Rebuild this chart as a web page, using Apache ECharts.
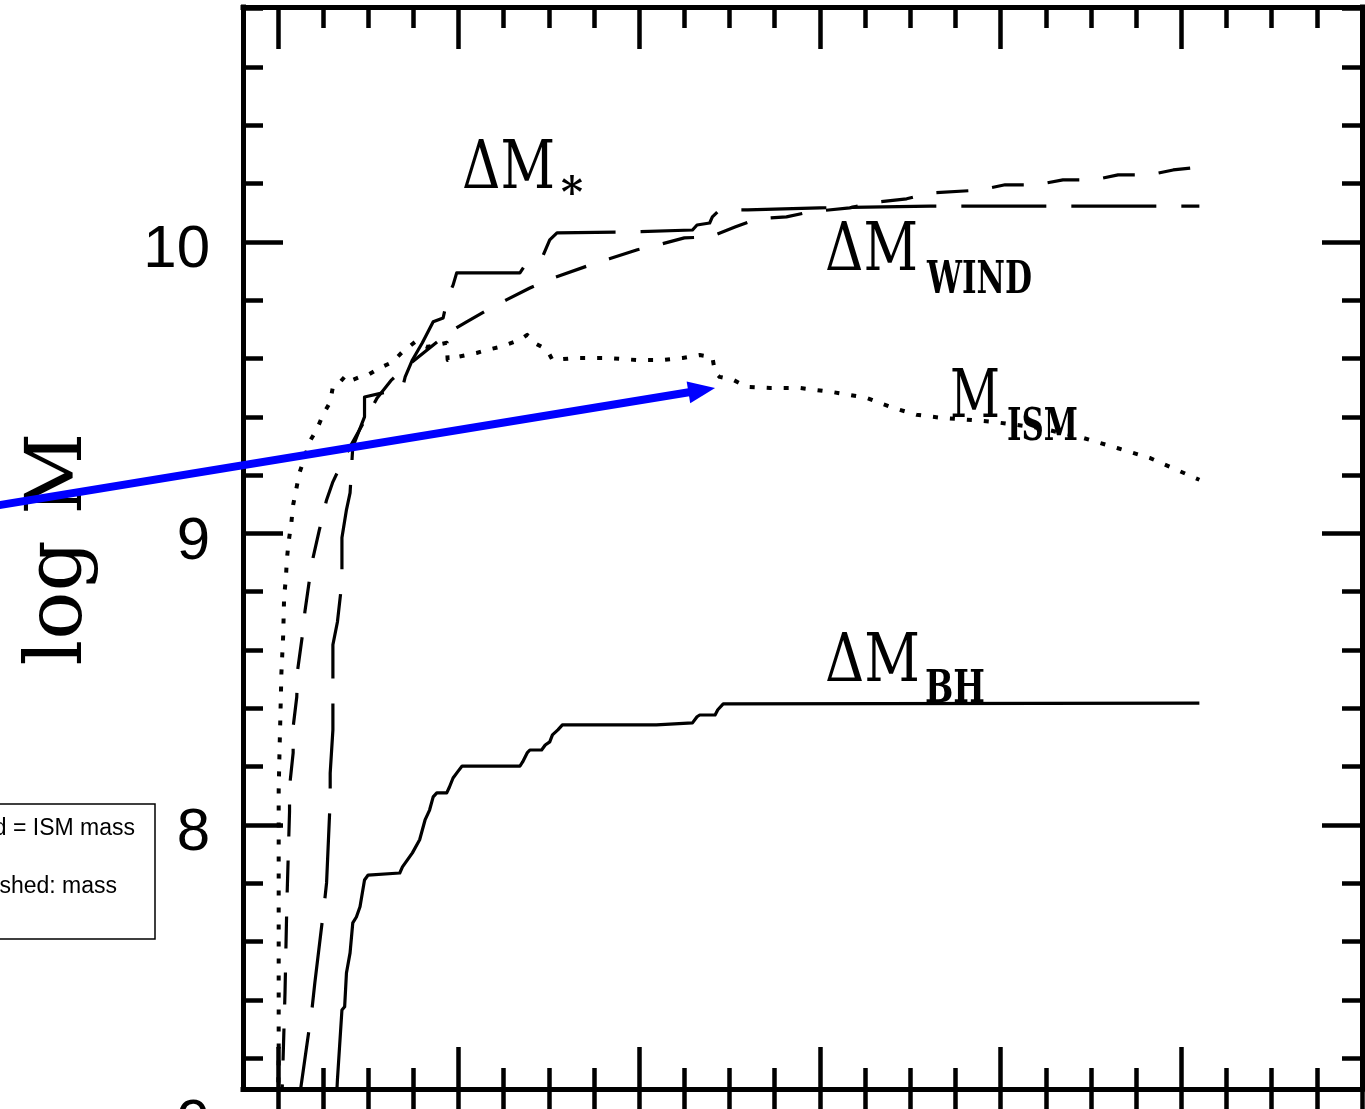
<!DOCTYPE html>
<html>
<head>
<meta charset="utf-8">
<script src="https://cdn.jsdelivr.net/npm/echarts@6/dist/echarts.min.js"></script>
<style>
  html, body { margin: 0; padding: 0; background: #fff; overflow: hidden; }
  #chart { width: 1365px; height: 1109px; }
</style>
</head>
<body>
<div id="chart"></div>
<script>
// ---- data: time (Gyr) and log10 mass of each component ----
const bhTime = [2.64,2.66,2.71,2.74,2.76,2.80,2.83,2.87,2.91,2.96,3.00,3.35,3.38,3.49,3.57,3.63,3.68,3.72,3.76,3.87,3.90,3.94,3.99,4.04,4.68,4.71,4.76,4.79,4.92,4.96,5.01,5.04,5.10,5.15,6.19,6.59,6.64,6.67,6.84,6.87,6.93,12.20];
const bhLogMass = [7.000,7.125,7.365,7.376,7.492,7.561,7.664,7.684,7.719,7.811,7.828,7.835,7.856,7.904,7.949,8.017,8.051,8.096,8.110,8.110,8.130,8.161,8.182,8.202,8.202,8.216,8.247,8.257,8.257,8.274,8.285,8.309,8.326,8.343,8.343,8.350,8.371,8.377,8.377,8.395,8.415,8.418];

const starTime = [2.21,2.38,2.41,2.51,2.54,2.58,2.58,2.61,2.61,2.66,2.71,2.71,2.76,2.80,2.83,2.96,2.96,3.16,3.38,3.41,3.49,3.60,3.72,3.83,3.88,3.94,3.98,4.68,4.76,4.93,5.01,5.09,5.90,6.59,6.64,6.78,6.81,6.89,7.20,8.00,9.22,12.20];
const starLogMass = [7.000,7.372,7.458,7.715,7.801,8.086,8.178,8.326,8.618,8.696,8.834,8.985,9.081,9.139,9.297,9.400,9.468,9.482,9.499,9.537,9.595,9.654,9.726,9.739,9.811,9.852,9.894,9.894,9.931,9.949,10.007,10.031,10.034,10.041,10.058,10.065,10.086,10.110,10.110,10.117,10.123,10.123];

const windTime = [2.04,2.08,2.10,2.13,2.13,2.17,2.17,2.21,2.22,2.27,2.30,2.35,2.39,2.46,2.54,2.61,2.71,2.80,3.10,3.26,3.38,3.90,4.09,4.32,4.53,4.79,4.99,5.43,5.67,5.98,6.21,6.50,6.78,7.06,7.30,7.63,7.89,8.33,8.64,8.96,9.22,9.77,10.05,10.40,10.69,11.04,11.30,11.65,11.91,12.20];
const windLogMass = [7.000,7.424,7.726,8.045,8.130,8.247,8.336,8.439,8.532,8.645,8.731,8.840,8.916,9.012,9.115,9.177,9.242,9.297,9.465,9.527,9.561,9.691,9.726,9.767,9.801,9.842,9.870,9.918,9.942,9.973,9.990,10.014,10.017,10.051,10.079,10.086,10.103,10.117,10.137,10.148,10.168,10.178,10.196,10.196,10.213,10.213,10.230,10.230,10.247,10.257];

const ismTime = [2.00,2.01,2.01,2.02,2.03,2.04,2.06,2.07,2.09,2.10,2.12,2.15,2.17,2.24,2.30,2.35,2.43,2.50,2.58,2.61,2.66,2.76,2.83,2.91,3.00,3.13,3.27,3.38,3.52,3.65,3.76,3.87,3.88,3.98,4.20,4.32,4.46,4.68,4.76,4.84,4.98,5.04,5.31,5.64,5.97,6.26,6.48,6.67,6.81,6.84,6.89,7.04,7.19,7.45,7.78,8.14,8.52,8.81,9.07,9.36,9.69,9.91,10.43,10.91,11.29,11.65,12.20];
const ismLogMass = [7.000,7.194,8.120,8.264,8.388,8.521,8.652,8.782,8.847,8.909,8.971,9.036,9.098,9.208,9.262,9.314,9.355,9.407,9.451,9.503,9.509,9.544,9.527,9.537,9.544,9.568,9.588,9.623,9.657,9.640,9.647,9.654,9.595,9.605,9.619,9.630,9.640,9.664,9.681,9.654,9.630,9.595,9.602,9.602,9.595,9.595,9.602,9.612,9.605,9.551,9.537,9.527,9.503,9.499,9.499,9.485,9.465,9.431,9.407,9.396,9.389,9.383,9.362,9.328,9.293,9.259,9.184];

// ---- axes ----
const xRange = [1.615, 14];
const yRange = [7.094, 10.806];
const xMajorTicks = [2, 4, 6, 8, 10, 12, 14];
const xMinorTicks = [2.5, 3, 3.5, 4.5, 5, 5.5, 6.5, 7, 7.5, 8.5, 9, 9.5, 10.5, 11, 11.5, 12.5, 13, 13.5];
const yMajorTicks = [8, 9, 10];
const yMinorTicks = [7.2, 7.4, 7.6, 7.8, 8.2, 8.4, 8.6, 8.8, 9.2, 9.4, 9.6, 9.8, 10.2, 10.4, 10.6, 10.8];
const yTickLabels = [8, 9, 10];

// annotation arrow (data coordinates)
const arrowFrom = [-1.30, 9.086];
const arrowTo = [6.84, 9.499];

// ---- text ----
const yTitle = 'log M';
const legendLines = ['Dotted = ISM mass', 'Dashed: mass'];

const pairs = (xs, ys) => xs.map((x, i) => [x, ys[i]]);

const chart = echarts.init(document.getElementById('chart'), null, { renderer: 'canvas' });

const INK = '#000';
const tickStyle = { color: INK, width: 4.5 };

function xAxisDef(position, ticks, len, opts = {}) {
  return Object.assign({
    type: 'value', position, min: xRange[0], max: xRange[1],
    axisLine: { show: false, onZero: false },
    axisTick: { show: true, inside: true, length: len, customValues: ticks, lineStyle: tickStyle },
    axisLabel: { show: false },
    splitLine: { show: false }
  }, opts);
}
function yAxisDef(position, ticks, len, opts = {}) {
  return Object.assign({
    type: 'value', position, min: yRange[0], max: yRange[1],
    axisLine: { show: false, onZero: false },
    axisTick: { show: true, inside: true, length: len, customValues: ticks, lineStyle: tickStyle },
    axisLabel: { show: false },
    splitLine: { show: false }
  }, opts);
}
const frameLine = { show: true, onZero: false, lineStyle: { color: INK, width: 5, cap: 'square' } };

const allXTicks = xMajorTicks.concat(xMinorTicks);

// text helpers: squeeze glyphs horizontally to a given width
const measureCtx = document.createElement('canvas').getContext('2d');
function textWidth(str, font) { measureCtx.font = font; return measureCtx.measureText(str).width; }
function fitText(id, str, font, left, midY, width, extra = {}) {
  const sx = width / textWidth(str, font);
  return Object.assign({
    type: 'text', id, x: left, y: midY, scaleX: sx, z: 60, silent: true,
    style: { text: str, font, fill: INK, textAlign: 'left', textVerticalAlign: 'middle' }
  }, extra);
}

const serifMain = '68px "DejaVu Serif"';
const serifSub = 'bold 44px "DejaVu Serif"';

const graphics = [
  // curve labels
  fitText('lblStar', 'ΔM', serifMain, 462, 170, 93),
  { type: 'text', id: 'lblStarSub', x: 572, y: 196, z: 60, silent: true,
    style: { text: '*', font: 'bold 42px "DejaVu Serif"', fill: INK, textAlign: 'center', textVerticalAlign: 'middle' } },
  fitText('lblWind', 'ΔM', serifMain, 825, 252, 93),
  fitText('lblWindSub', 'WIND', serifSub, 927, 282, 105),
  fitText('lblIsm', 'M', serifMain, 950, 399, 50),
  fitText('lblIsmSub', 'ISM', serifSub, 1007, 429, 71),
  fitText('lblBh', 'ΔM', serifMain, 825, 663, 95),
  fitText('lblBhSub', 'BH', serifSub, 925, 691, 60),
  // y axis title, reading upward
  (function () {
    const font = '78px "DejaVu Serif"';
    return { type: 'text', id: 'yTitle', x: 61, y: 549, rotation: Math.PI / 2, z: 60, silent: true,
      scaleX: 233 / textWidth(yTitle, font),
      style: { text: yTitle, font, fill: INK, textAlign: 'center', textVerticalAlign: 'middle' } };
  })(),
  // tick label of the panel below, cut by the page edge
  { type: 'text', id: 'nextPanelLabel', x: 210, y: 1124, z: 60, silent: true,
    style: { text: '9', font: '60px "Liberation Sans"', fill: INK, textAlign: 'right', textVerticalAlign: 'middle' } },
  // key box
  { type: 'rect', id: 'keyBox', z: 60, silent: true,
    shape: { x: -20, y: 804, width: 175, height: 135 },
    style: { fill: '#fff', stroke: INK, lineWidth: 1.5 } },
  { type: 'text', id: 'keyLine1', x: 135, y: 829, z: 61, silent: true,
    style: { text: legendLines[0], font: '23px "Liberation Sans"', fill: INK, textAlign: 'right', textVerticalAlign: 'middle' } },
  { type: 'text', id: 'keyLine2', x: 117, y: 887, z: 61, silent: true,
    style: { text: legendLines[1], font: '23px "Liberation Sans"', fill: INK, textAlign: 'right', textVerticalAlign: 'middle' } }
];

const lineSeries = (name, xs, ys, dash, width) => ({
  name, type: 'line', xAxisIndex: 0, yAxisIndex: 0,
  data: pairs(xs, ys), showSymbol: false, symbol: 'none', clip: true,
  lineStyle: { color: INK, width, type: dash, cap: 'butt', join: 'round' },
  emphasis: { disabled: true }, z: 3
});

chart.setOption({
  animation: false,
  backgroundColor: '#fff',
  grid: { left: 243, right: 3, top: 7, bottom: 20, containLabel: false },
  xAxis: [
    xAxisDef('bottom', xMajorTicks, 42, { axisLine: frameLine }),
    xAxisDef('bottom', xMinorTicks, 21),
    xAxisDef('bottom', allXTicks, 30, { axisTick: { show: true, inside: false, length: 30, customValues: allXTicks, lineStyle: tickStyle } }),
    xAxisDef('top', xMajorTicks, 42, { axisLine: frameLine }),
    xAxisDef('top', xMinorTicks, 21)
  ],
  yAxis: [
    yAxisDef('left', yMajorTicks, 40, {
      axisLine: frameLine,
      axisLabel: { show: true, customValues: yTickLabels, color: INK, fontSize: 60,
        fontFamily: '"Liberation Sans", Arial, sans-serif', margin: 33,
        verticalAlign: 'top', lineHeight: 18 }
    }),
    yAxisDef('left', yMinorTicks, 20),
    yAxisDef('right', yMajorTicks, 40, { axisLine: frameLine }),
    yAxisDef('right', yMinorTicks, 20)
  ],
  series: [
    lineSeries('ΔM_BH', bhTime, bhLogMass, 'solid', 3.2),
    lineSeries('ΔM_*', starTime, starLogMass, [85, 25], 3.2),
    lineSeries('ΔM_WIND', windTime, windLogMass, [32, 24], 3.2),
    lineSeries('M_ISM', ismTime, ismLogMass, [5, 12], 4)
  ],
  graphic: graphics
});

// blue pointer arrow, placed through the axis scales
(function drawArrow() {
  const p0 = chart.convertToPixel({ xAxisIndex: 0, yAxisIndex: 0 }, arrowFrom);
  const p1 = chart.convertToPixel({ xAxisIndex: 0, yAxisIndex: 0 }, arrowTo);
  const dx = p1[0] - p0[0], dy = p1[1] - p0[1];
  const len = Math.sqrt(dx * dx + dy * dy);
  const ux = dx / len, uy = dy / len;
  const headLen = 27, headHalf = 11;
  const bx = p1[0] - ux * headLen, by = p1[1] - uy * headLen;
  chart.setOption({
    graphic: [
      { type: 'line', id: 'arrowShaft', z: 80, silent: true,
        shape: { x1: p0[0], y1: p0[1], x2: bx + ux * 2, y2: by + uy * 2 },
        style: { stroke: '#0000ff', lineWidth: 8 } },
      { type: 'polygon', id: 'arrowHead', z: 80, silent: true,
        shape: { points: [[p1[0], p1[1]], [bx - uy * headHalf, by + ux * headHalf], [bx + uy * headHalf, by - ux * headHalf]] },
        style: { fill: '#0000ff' } }
    ]
  });
})();
</script>
</body>
</html>
